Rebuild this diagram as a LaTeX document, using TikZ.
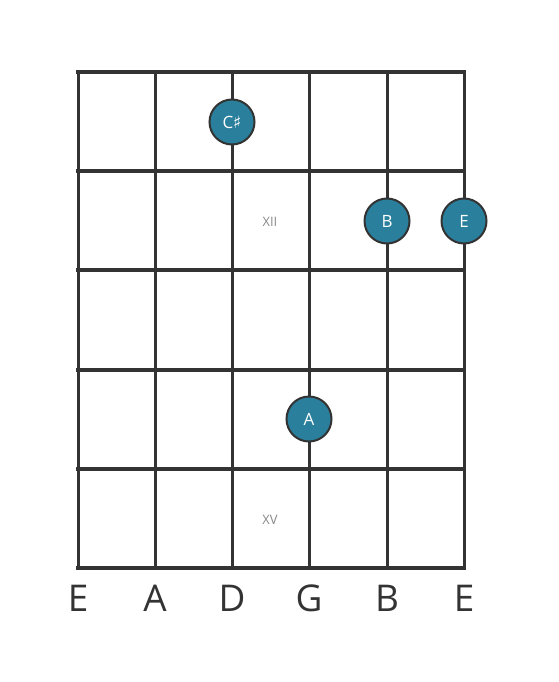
\documentclass[tikz,border=0pt]{standalone}
\usepackage{fontspec}
\setmainfont{Open Sans}
\newfontfamily\symfont{DejaVu Sans}
\definecolor{linec}{HTML}{333333}
\definecolor{dotc}{HTML}{2A7F9C}
\definecolor{lblc}{HTML}{888888}
\begin{document}
\begin{tikzpicture}[x=1bp,y=-1bp,
  fret/.style={draw=linec,line width=4.5bp},
  str/.style={draw=linec,line width=3bp},
  notedot/.style={circle,fill=dotc,draw=linec,line width=2bp,minimum size=45bp,inner sep=0pt,text=white,font=\fontsize{17}{17}\selectfont},
  fretlbl/.style={text=lblc,font=\fontsize{13}{13}\selectfont},
  sname/.style={text=linec,font=\fontsize{37}{37}\selectfont,anchor=base}]
\useasboundingbox (0,0) rectangle (559,682);
\foreach \x [count=\i] in {78,155,232,309,387,464}{
  \coordinate (s\i t) at (\x,72);
  \coordinate (s\i b) at (\x,568);
  \draw[str] (s\i t) -- (s\i b);
}
\foreach \y [count=\j] in {72,171,270,370,469,568}{
  \coordinate (f\j l) at (76,\y);
  \coordinate (f\j r) at (466,\y);
  \draw[fret] (f\j l) -- (f\j r);
}
\node[fretlbl] (xii) at (270,222) {XII};
\node[fretlbl] (xv) at (270,520) {XV};
\node[notedot] (cs) at (232,122) {C{\symfont ♯}};
\node[notedot] (b) at (387,221) {B};
\node[notedot] (e) at (464,221) {E};
\node[notedot] (a) at (309,419) {A};
\node[sname] (n1) at (78,611) {E};
\node[sname] (n2) at (155,611) {A};
\node[sname] (n3) at (232,611) {D};
\node[sname] (n4) at (309,611) {G};
\node[sname] (n5) at (387,611) {B};
\node[sname] (n6) at (464,611) {E};
\end{tikzpicture}
\end{document}
